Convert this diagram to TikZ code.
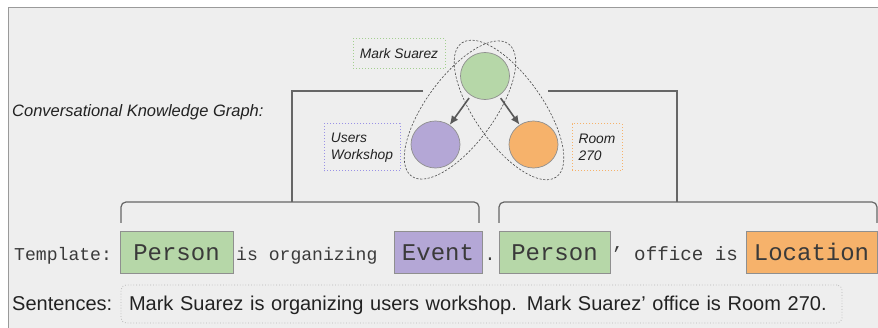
\documentclass[tikz,border=0pt]{standalone}
\usepackage{fontspec}
\setmainfont{Liberation Sans}
\setmonofont{Liberation Mono}
\usetikzlibrary{shapes.geometric,arrows.meta}
\definecolor{panel}{HTML}{EEEEEE}
\definecolor{panelline}{HTML}{9A9A9A}
\definecolor{kggreen}{HTML}{B6D7A8}
\definecolor{kgpurple}{HTML}{B4A7D6}
\definecolor{kgorange}{HTML}{F6B26B}
\definecolor{lblgreen}{HTML}{A3CF8F}
\definecolor{lblpurple}{HTML}{9A92E6}
\definecolor{lblorange}{HTML}{F6B26B}
\definecolor{boxline}{HTML}{8F8F8F}
\definecolor{connline}{HTML}{666666}
\definecolor{arrowcol}{HTML}{595959}
\definecolor{txt}{HTML}{222222}
\definecolor{monotxt}{HTML}{3A3A3A}
\begin{document}
\begin{tikzpicture}[x=1pt,y=-1pt,
  kgnode/.style={ellipse,draw=boxline,line width=0.7pt,minimum width=49pt,minimum height=47pt,inner sep=0pt},
  kgarrow/.style={draw=arrowcol,line width=1.6pt,-{Latex[length=9pt,width=8pt]},shorten <=3pt},
  grp/.style={draw=black!70,line width=0.6pt,dash pattern=on 2.2pt off 1.6pt},
  lbl/.style={draw,dotted,line width=1pt,inner sep=0pt,align=left,text=txt,font=\itshape\fontsize{13.8}{17}\selectfont},
  conn/.style={draw=connline,line width=1.2pt},
  tbox/.style={draw=boxline,line width=0.8pt,minimum height=42pt,inner sep=0pt,text height=17pt,text depth=0pt,text=monotxt,font=\ttfamily\fontsize{24}{28}\selectfont},
  mono/.style={anchor=base west,inner sep=0pt,text=monotxt,font=\ttfamily\fontsize{18.1}{22}\selectfont},
  sans/.style={inner sep=0pt,text=txt,font=\fontsize{20}{24}\selectfont}]
\useasboundingbox (0,0) rectangle (878,328);
\fill[white] (0,0) rectangle (878,328);
\fill[panel] (8,8) rectangle (878,328);
\draw[panelline,line width=1pt] (8,328) -- (8,8) -- (878,8);

% title
\node[anchor=base west,inner sep=0pt,text=txt,font=\itshape\fontsize{16.5}{19}\selectfont] (title) at (12,117) {Conversational Knowledge Graph:};

% connectors from graph to brackets
\coordinate (lt) at (423,91);
\coordinate (lc) at (292,91);
\coordinate (lb) at (292,202);
\coordinate (rt) at (548,91);
\coordinate (rc) at (677,91);
\coordinate (rb) at (677,202);
\draw[conn] (lt) -- (lc) -- (lb);
\draw[conn] (rt) -- (rc) -- (rb);

% brackets
\coordinate (b1a) at (121,223);
\coordinate (b1b) at (121,202);
\coordinate (b1c) at (479,202);
\coordinate (b1d) at (479,223);
\coordinate (b2a) at (499,223);
\coordinate (b2b) at (499,202);
\coordinate (b2c) at (877,202);
\coordinate (b2d) at (877,223);
\draw[conn,rounded corners=5pt] (b1a) -- (b1b) -- (b1c) -- (b1d);
\draw[conn,rounded corners=5pt] (b2a) -- (b2b) -- (b2c) -- (b2d);

% graph nodes
\node[kgnode,fill=kggreen] (g) at (485,76) {};
\node[kgnode,fill=kgpurple] (p) at (435.5,144.5) {};
\node[kgnode,fill=kgorange] (o) at (533.5,144.5) {};
\draw[kgarrow] (g) -- (p);
\draw[kgarrow] (g) -- (o);

% dashed groupings
\draw[grp,rotate around={53.7:(460,110)}] (460,110) ellipse [x radius=82, y radius=34];
\draw[grp,rotate around={-54.8:(509,110)}] (509,110) ellipse [x radius=82, y radius=34];

% labels
\node[lbl,draw=lblgreen,minimum width=92pt,minimum height=30pt] (lms) at (399,54) {Mark Suarez};
\node[lbl,draw=lblpurple,minimum width=76pt,minimum height=47pt] (luw) at (362,147.5) {Users\\Workshop};
\node[lbl,draw=lblorange,minimum width=50pt,minimum height=47pt] (lrm) at (597,147.5) {Room\\270};

% template row
\node[mono] (tl) at (14,261) {Template:};
\node[tbox,fill=kggreen,minimum width=113pt] (t1) at (176.5,252) {Person};
\node[mono] (t2) at (236,261) {is organizing};
\node[tbox,fill=kgpurple,minimum width=88pt] (t3) at (438,252) {Event};
\node[mono,anchor=base] (t4) at (490,261) {.};
\node[tbox,fill=kggreen,minimum width=111pt] (t5) at (554.5,252) {Person};
\node[mono,font=\ttfamily\fontsize{19.2}{22}\selectfont] (t6) at (611,261) {’ office is};
\node[tbox,fill=kgorange,minimum width=131pt] (t7) at (811.5,252) {Location};

% sentences row
\node[sans,anchor=base west] (sl) at (12,311) {Sentences:};
\node[sans,draw=black!28,dotted,line width=0.8pt,rounded corners=5pt,inner xsep=8pt,text width=705pt,align=left,minimum height=38pt,text height=18pt,text depth=4pt] (sb) at (481.5,304) {Mark Suarez is organizing users workshop. Mark Suarez’ office is Room 270.};
\end{tikzpicture}
\end{document}
